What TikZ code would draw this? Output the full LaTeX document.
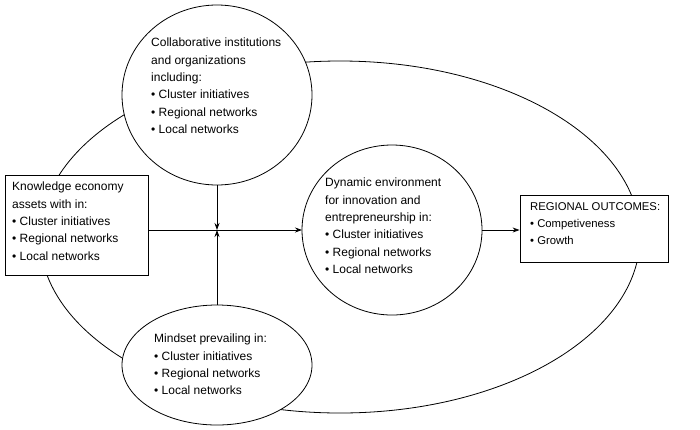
\documentclass[tikz,border=0pt]{standalone}
\usepackage{fontspec}
\setmainfont{Liberation Sans}
\usetikzlibrary{arrows.meta}
\begin{document}
\begin{tikzpicture}[x=1pt,y=-1pt,
  txt/.style={align=left,font=\fontsize{12}{17.3}\selectfont,inner sep=0pt},
  ln/.style={line width=0.8pt},
  arr/.style={ln,-{Stealth[length=7pt,width=5pt]}}]
\useasboundingbox (0,0) rectangle (700,429);
\draw[ln] (340,237) ellipse [x radius=300, y radius=176];
\draw[ln,fill=white] (217,95) ellipse [x radius=95, y radius=90];
\draw[ln,fill=white] (217,365) ellipse [x radius=95, y radius=60];
\draw[ln,fill=white] (392,230) ellipse [x radius=90, y radius=85];
\node[ln,draw,fill=white,minimum width=143pt,minimum height=100pt] (L) at (76.5,225) {};
\node[ln,draw,fill=white,minimum width=148pt,minimum height=67pt] (R) at (594,228.5) {};
\coordinate (T) at (217,185);
\coordinate (B) at (217,305);
\coordinate (M) at (217,230);
\coordinate (ML) at (302,230);
\coordinate (MR) at (482,230);
\draw[arr] (L.east|-M) -- (ML);
\draw[arr] (T) -- (M);
\draw[arr] (B) -- (M);
\draw[arr] (MR) -- (R.west|-MR);
\node[txt,anchor=north west] (t1) at (151,38) {Collaborative institutions\\and organizations\\including:\\\textbullet\ Cluster initiatives\\\textbullet\ Regional networks\\\textbullet\ Local networks};
\node[txt,anchor=north west] (t2) at (154,334) {Mindset prevailing in:\\\textbullet\ Cluster initiatives\\\textbullet\ Regional networks\\\textbullet\ Local networks};
\node[txt,anchor=north west] (t3) at (325,178) {Dynamic environment\\for innovation and\\entrepreneurship in:\\\textbullet\ Cluster initiatives\\\textbullet\ Regional networks\\\textbullet\ Local networks};
\node[txt,anchor=north west] (t4) at (12,182) {Knowledge economy\\assets with in:\\\textbullet\ Cluster initiatives\\\textbullet\ Regional networks\\\textbullet\ Local networks};
\node[txt,anchor=north west,font=\fontsize{11.3}{17.3}\selectfont] (t5) at (530,202) {REGIONAL OUTCOMES:\\\textbullet\ Competiveness\\\textbullet\ Growth};
\end{tikzpicture}
\end{document}
